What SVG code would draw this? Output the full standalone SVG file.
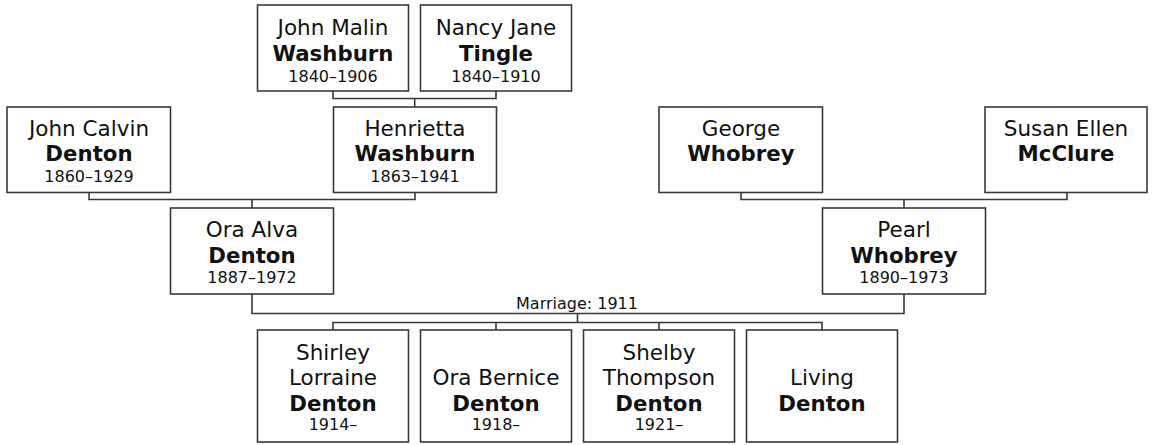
<svg xmlns="http://www.w3.org/2000/svg" width="1152" height="445" viewBox="0 0 1152 445">
<style>
.box{fill:#fff;stroke:#3a3a3a;stroke-width:1.6}
.c{fill:none;stroke:#3a3a3a;stroke-width:1.6}
text{font-family:"DejaVu Sans",Verdana,sans-serif;fill:#111;text-anchor:middle}
.n{font-size:21.5px}
.s{font-size:21.3px;font-weight:bold}
.d{font-size:16px}
.m{font-size:16px}
</style>
<rect width="1152" height="445" fill="#fff"/>
<g id="connectors">
<path class="c" d="M333,91V98.5H496V91M414.7,98.5V107"/>
<path class="c" d="M89,192V199.5H415V192M252,199.5V208"/>
<path class="c" d="M741,192V199.5H1067V192M904,199.5V208"/>
<path class="c" d="M252,294V313.5H904V294M577.5,313.5V322.5"/>
<path class="c" d="M333,330V322.5H822V330M496,322.5V330M659,322.5V330"/>
<text class="m" x="577" y="309">Marriage: 1911</text>
</g>
<g id="john-malin-washburn">
<rect class="box" x="257.5" y="5" width="151" height="86"/>
<text class="n" x="333" y="35">John Malin</text>
<text class="s" x="333" y="60.5">Washburn</text>
<text class="d" x="333" y="81.5">1840–1906</text>
</g>
<g id="nancy-jane-tingle">
<rect class="box" x="420.5" y="5" width="151" height="86"/>
<text class="n" x="496" y="35">Nancy Jane</text>
<text class="s" x="496" y="60.5">Tingle</text>
<text class="d" x="496" y="81.5">1840–1910</text>
</g>
<g id="john-calvin-denton">
<rect class="box" x="7" y="107" width="163.5" height="85.5"/>
<text class="n" x="89" y="135.5">John Calvin</text>
<text class="s" x="89" y="161">Denton</text>
<text class="d" x="89" y="181.5">1860–1929</text>
</g>
<g id="henrietta-washburn">
<rect class="box" x="333.5" y="107" width="163" height="85.5"/>
<text class="n" x="415" y="135.5">Henrietta</text>
<text class="s" x="415" y="161">Washburn</text>
<text class="d" x="415" y="181.5">1863–1941</text>
</g>
<g id="george-whobrey">
<rect class="box" x="659" y="107" width="163.5" height="85.5"/>
<text class="n" x="741" y="135.5">George</text>
<text class="s" x="741" y="161">Whobrey</text>
</g>
<g id="susan-ellen-mcclure">
<rect class="box" x="985" y="107" width="162" height="85.5"/>
<text class="n" x="1066" y="135.5">Susan Ellen</text>
<text class="s" x="1066" y="161">McClure</text>
</g>
<g id="ora-alva-denton">
<rect class="box" x="170.5" y="208" width="163" height="86"/>
<text class="n" x="252" y="236.5">Ora Alva</text>
<text class="s" x="252" y="262.5">Denton</text>
<text class="d" x="252" y="282.5">1887–1972</text>
</g>
<g id="pearl-whobrey">
<rect class="box" x="822.5" y="208" width="163" height="86"/>
<text class="n" x="904" y="236.5">Pearl</text>
<text class="s" x="904" y="262.5">Whobrey</text>
<text class="d" x="904" y="282.5">1890–1973</text>
</g>
<g id="shirley-lorraine-denton">
<rect class="box" x="257.5" y="330" width="151" height="112"/>
<text class="n" x="333" y="360">Shirley</text>
<text class="n" x="333" y="385">Lorraine</text>
<text class="s" x="333" y="410.5">Denton</text>
<text class="d" x="333" y="430">1914–</text>
</g>
<g id="ora-bernice-denton">
<rect class="box" x="420.5" y="330" width="151" height="112"/>
<text class="n" x="496" y="385">Ora Bernice</text>
<text class="s" x="496" y="410.5">Denton</text>
<text class="d" x="496" y="430">1918–</text>
</g>
<g id="shelby-thompson-denton">
<rect class="box" x="583.5" y="330" width="151" height="112"/>
<text class="n" x="659" y="360">Shelby</text>
<text class="n" x="659" y="385">Thompson</text>
<text class="s" x="659" y="410.5">Denton</text>
<text class="d" x="659" y="430">1921–</text>
</g>
<g id="living-denton">
<rect class="box" x="746.5" y="330" width="151" height="112"/>
<text class="n" x="822" y="385">Living</text>
<text class="s" x="822" y="410.5">Denton</text>
</g>
</svg>
